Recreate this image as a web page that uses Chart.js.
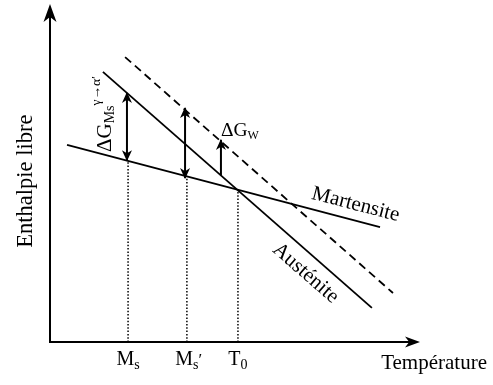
<!DOCTYPE html>
<html>
<head>
<meta charset="utf-8">
<script src="https://cdn.jsdelivr.net/npm/chart.js@4"></script>
<style>
  html, body { margin: 0; padding: 0; background: #fff; }
  #wrap { width: 493px; height: 385px; }
</style>
</head>
<body>
<div id="wrap"><canvas id="diagram"></canvas></div>
<script>
// Free enthalpy lines (temperature, enthalpy), arbitrary units 0-100
const martensite = [{x: 4.6, y: 58.3}, {x: 89.2, y: 34.0}];
const austenite = [{x: 14.3, y: 79.9}, {x: 87.0, y: 10.1}];
const austeniteShifted = [{x: 20.3, y: 84.3}, {x: 92.7, y: 14.5}];

// Characteristic temperatures on the x axis
const tickValues = [21.1, 37.0, 50.8];
const tickLabels = [['M', 's', ''], ['M', 's', '\u2032'], ['T', '0', '']];
// top of each dotted drop line (on the martensite line)
const dropTops = [53.6, 49.1, 45.0];

// Driving force arrows: bottom point, top point
const arrowMs = [{x: 20.8, y: 53.8}, {x: 20.8, y: 73.7}];
const arrowMsPrime = [{x: 36.5, y: 48.5}, {x: 36.5, y: 69.2}];
const arrowW = [{x: 46.2, y: 49.4}, {x: 46.2, y: 59.8}];

const FONT = '"Liberation Serif", "Times New Roman", serif';

function lineSet(data, extra) {
    return Object.assign({
        data: data,
        showLine: true,
        borderColor: '#000',
        backgroundColor: '#000',
        borderWidth: 1.8,
        pointRadius: 0,
        fill: false,
        clip: false
    }, extra || {});
}

const drops = tickValues.map((t, i) => lineSet([{x: t, y: 0}, {x: t, y: dropTops[i]}], {borderWidth: 1.5, borderDash: [1.5, 1.8]}));

// draw a filled arrow head with its tip at (x, y)
function head(ctx, x, y, ang, len, hw) {
    ctx.save();
    ctx.translate(x, y);
    ctx.rotate(ang);
    ctx.beginPath();
    ctx.moveTo(0, 0);
    ctx.lineTo(-len, -hw);
    ctx.lineTo(-len * 0.72, 0);
    ctx.lineTo(-len, hw);
    ctx.closePath();
    ctx.fill();
    ctx.restore();
}

// text with sub/superscript parts: [text, size, dy]
function rich(ctx, x, y, parts) {
    let cx = x;
    parts.forEach(p => {
        if (!p[0]) return;
        ctx.font = p[1] + 'px ' + FONT;
        ctx.fillText(p[0], cx, y + p[2]);
        cx += ctx.measureText(p[0]).width;
    });
}

const decor = {
    id: 'decor',
    afterDatasetsDraw(chart) {
        const ctx = chart.ctx;
        const xs = chart.scales.x, ys = chart.scales.y;
        const area = chart.chartArea;
        const px = v => xs.getPixelForValue(v);
        const py = v => ys.getPixelForValue(v);
        ctx.save();
        ctx.fillStyle = '#000';
        ctx.strokeStyle = '#000';

        // axes with arrows
        ctx.lineWidth = 2;
        ctx.beginPath();
        ctx.moveTo(area.left, area.top + 8);
        ctx.lineTo(area.left, area.bottom);
        ctx.lineTo(area.right - 8, area.bottom);
        ctx.stroke();
        head(ctx, area.left, area.top, -Math.PI / 2, 18, 6.5);
        head(ctx, area.right, area.bottom, 0, 15, 5.5);

        // arrow heads on the driving force arrows
        chart.data.datasets.forEach((ds, i) => {
            if (!ds.arrow) return;
            const pts = chart.getDatasetMeta(i).data;
            const a = pts[0], b = pts[pts.length - 1];
            const ang = Math.atan2(b.y - a.y, b.x - a.x);
            head(ctx, b.x + Math.cos(ang), b.y + Math.sin(ang), ang, 11, 5);
            if (ds.arrow === 'both') head(ctx, a.x - Math.cos(ang), a.y - Math.sin(ang), ang + Math.PI, 11, 5);
        });

        ctx.textBaseline = 'alphabetic';
        ctx.textAlign = 'left';

        // tick labels
        tickValues.forEach((t, i) => {
            const l = tickLabels[i];
            ctx.font = '20px ' + FONT;
            const w1 = ctx.measureText(l[0]).width;
            ctx.font = '14px ' + FONT;
            const w2 = ctx.measureText(l[1]).width;
            rich(ctx, px(t) - (w1 + w2) / 2, py(-6.8), [[l[0], 20, 0], [l[1], 14, 4], [l[2], 17, 0]]);
        });

        // axis titles
        rich(ctx, px(89.5), py(-8.0), [['Température', 21, 0]]);
        ctx.save();
        ctx.translate(px(-4.8), py(27.9));
        ctx.rotate(-Math.PI / 2);
        rich(ctx, 0, 0, [['Enthalpie libre', 22.5, 0]]);
        ctx.restore();

        // curve names
        ctx.save();
        ctx.translate(px(70.5), py(42.4));
        ctx.rotate(14.5 * Math.PI / 180);
        rich(ctx, 0, 0, [['Martensite', 21, 0]]);
        ctx.restore();

        ctx.save();
        ctx.translate(px(59.9), py(26.9));
        ctx.rotate(41 * Math.PI / 180);
        rich(ctx, 0, 0, [['Austénite', 21, 0]]);
        ctx.restore();

        // driving force labels
        rich(ctx, px(46.2), py(60.9), [['\u0394G', 19.5, 0], ['W', 12, 3]]);
        ctx.save();
        ctx.translate(px(16.5), py(56.2));
        ctx.rotate(-Math.PI / 2);
        rich(ctx, 0, 0, [['\u0394G', 21, 0], ['Ms', 14, 3], ['\u03B3\u2192\u03B1\u2032', 13.5, -11]]);
        ctx.restore();

        ctx.restore();
    }
};

new Chart(document.getElementById('diagram'), {
    type: 'scatter',
    data: {
        datasets: [
            lineSet(martensite),
            lineSet(austenite),
            lineSet(austeniteShifted, {borderDash: [8, 5]}),
            ...drops,
            lineSet(arrowMs, {borderWidth: 2, arrow: 'both'}),
            lineSet(arrowMsPrime, {borderWidth: 2, arrow: 'both'}),
            lineSet(arrowW, {borderWidth: 2, arrow: 'end'})
        ]
    },
    options: {
        responsive: true,
        maintainAspectRatio: false,
        animation: false,
        layout: { padding: { left: 50, right: 73, top: 4, bottom: 43 } },
        plugins: { legend: { display: false }, tooltip: { enabled: false } },
        scales: {
            x: { type: 'linear', min: 0, max: 100, display: false },
            y: { type: 'linear', min: 0, max: 100, display: false }
        }
    },
    plugins: [decor]
});
</script>
</body>
</html>
